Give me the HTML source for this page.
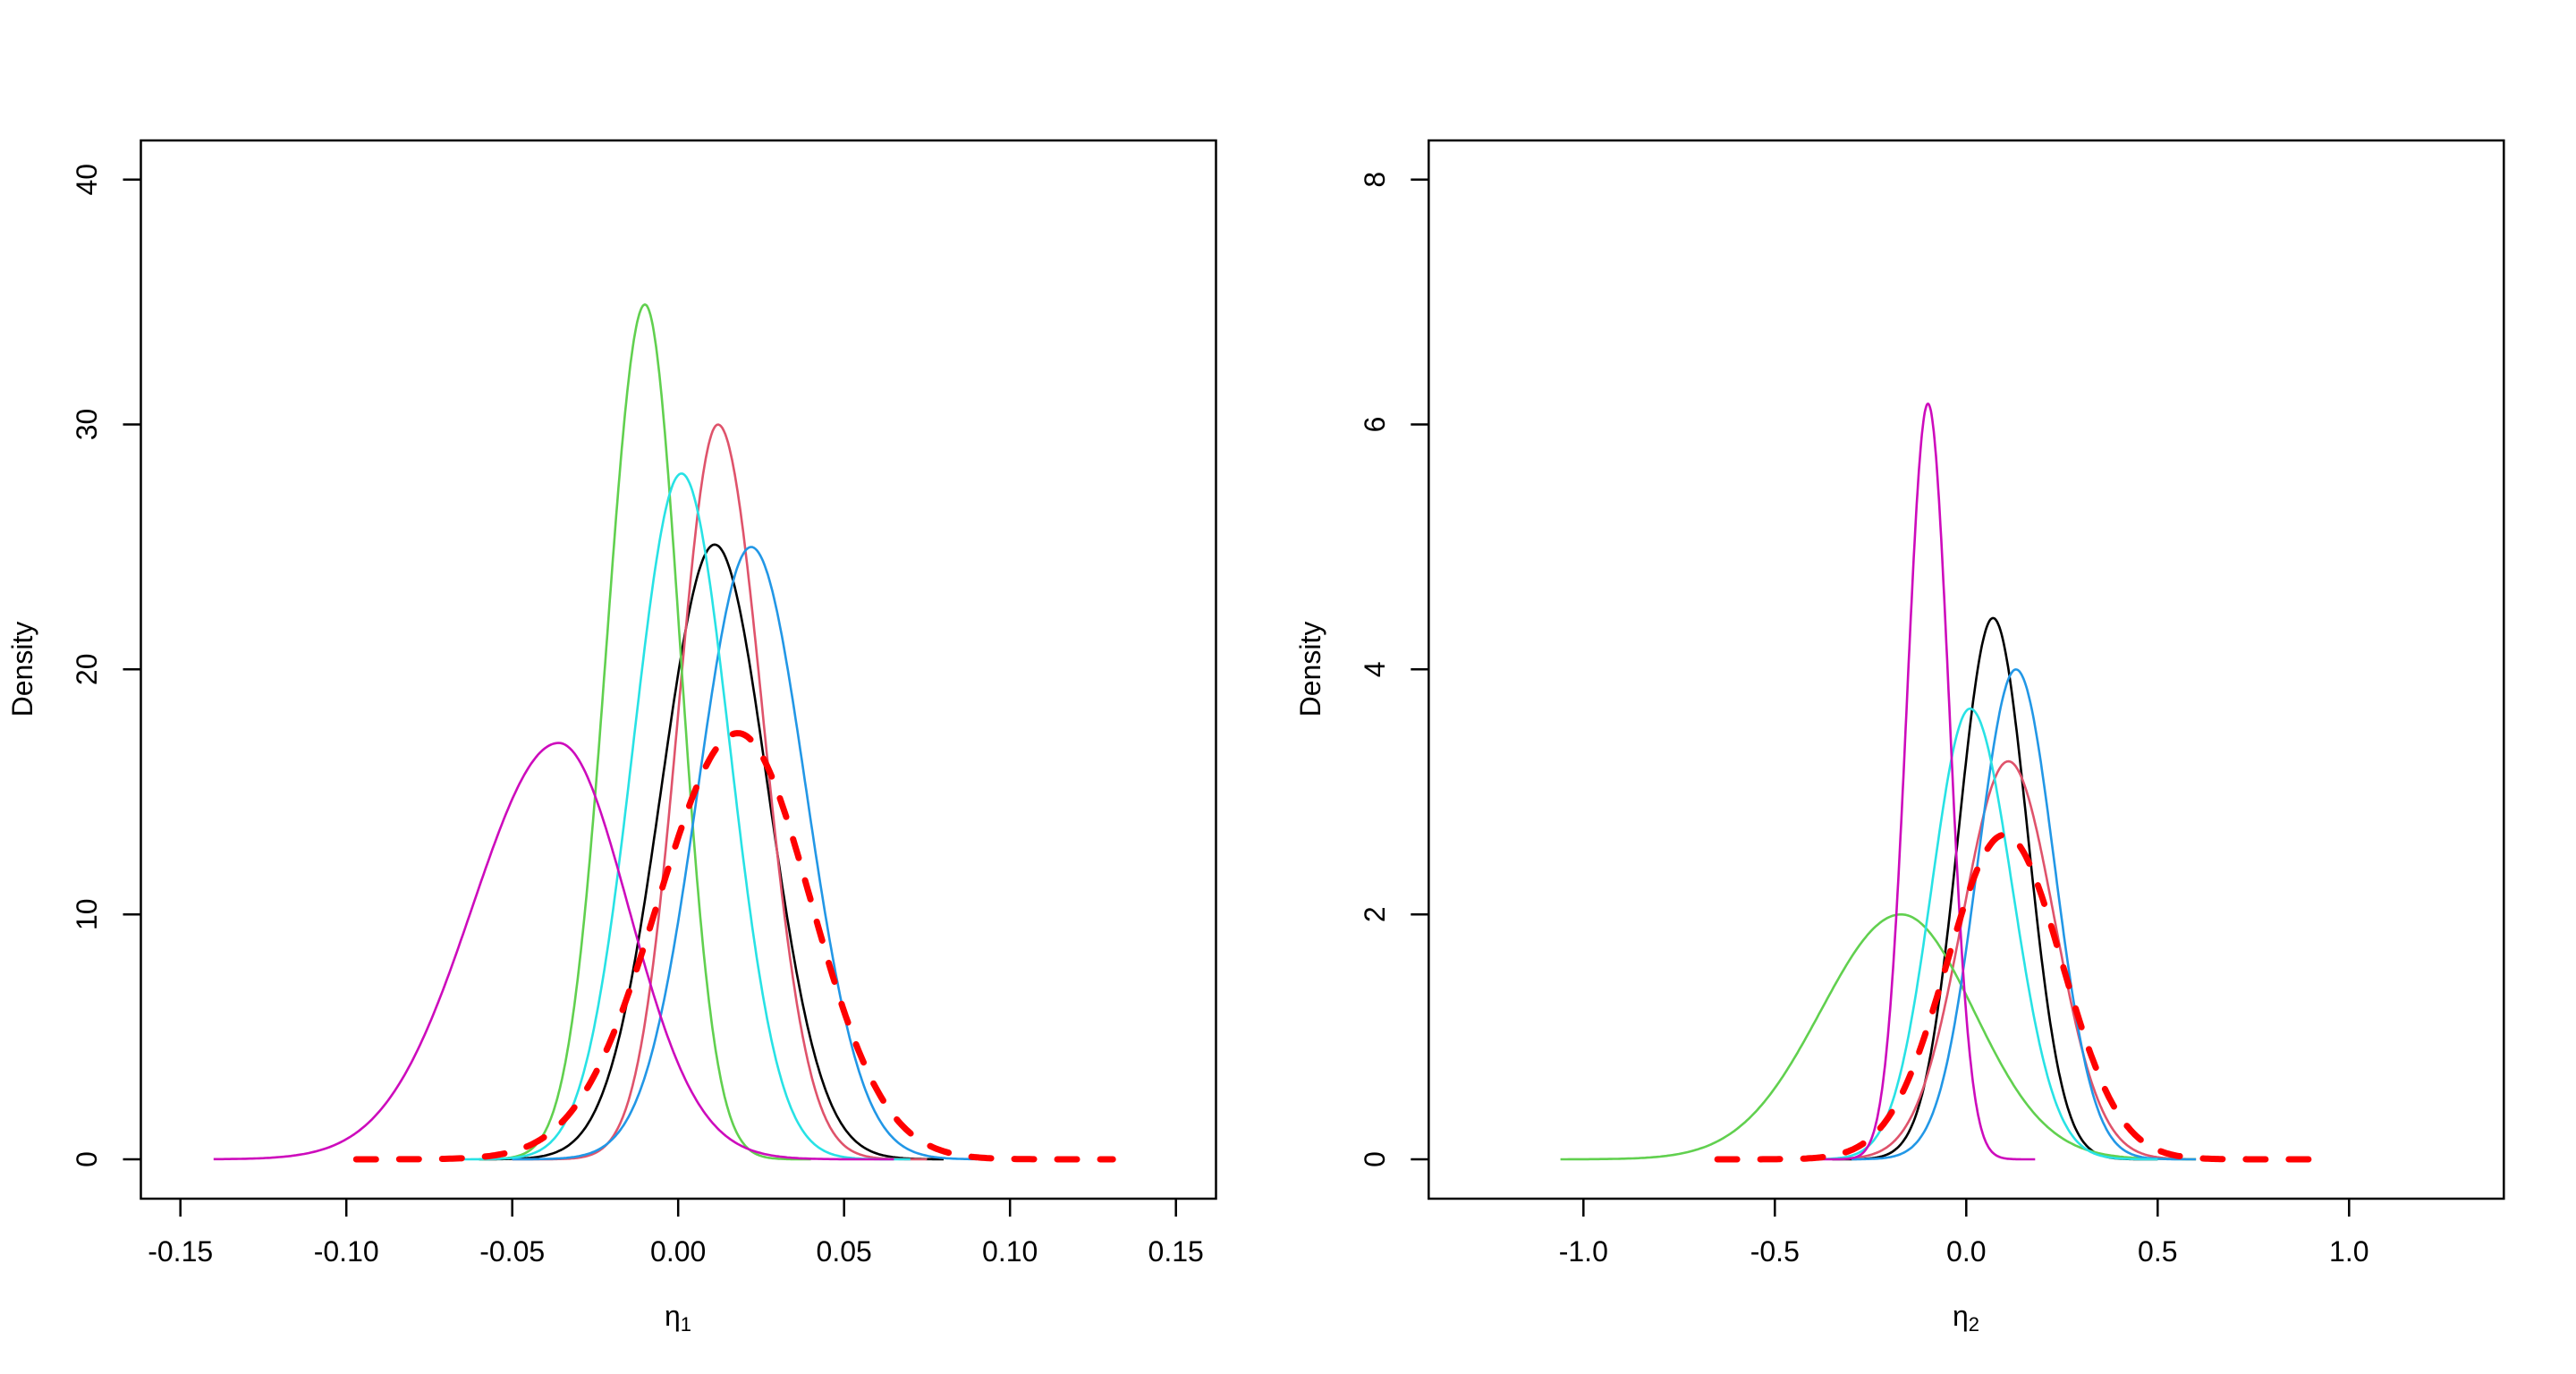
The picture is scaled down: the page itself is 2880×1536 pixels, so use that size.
<!DOCTYPE html>
<html><head><meta charset="utf-8"><style>
html,body{margin:0;padding:0;background:#fff;}
svg{display:block;}
text{font-family:"Liberation Sans",Arial,sans-serif;fill:#000;}
</style></head><body>
<svg id="s" width="2880" height="1536" viewBox="0 0 2880 1536" xmlns="http://www.w3.org/2000/svg">
<rect width="2880" height="1536" fill="#fff"/>
<g fill="none" stroke="#000" stroke-width="2.5">
<rect x="157.5" y="157" width="1202" height="1183"/>
<rect x="1597.3" y="157" width="1202" height="1183"/>
<path d="M201.7 1340v20M387.2 1340v20M572.7 1340v20M758.2 1340v20M943.7 1340v20M1129.2 1340v20M1314.7 1340v20"/>
<path d="M157.5 1296h-20M157.5 1022.2h-20M157.5 748.3h-20M157.5 474.5h-20M157.5 200.7h-20"/>
<path d="M1770.3 1340v20M1984.3 1340v20M2198.3 1340v20M2412.3 1340v20M2626.3 1340v20"/>
<path d="M1597.3 1296h-20M1597.3 1022.2h-20M1597.3 748.3h-20M1597.3 474.5h-20M1597.3 200.7h-20"/>
</g>
<g font-size="32" text-anchor="middle">
<text x="201.7" y="1410">-0.15</text><text x="387.2" y="1410">-0.10</text><text x="572.7" y="1410">-0.05</text><text x="758.2" y="1410">0.00</text><text x="943.7" y="1410">0.05</text><text x="1129.2" y="1410">0.10</text><text x="1314.7" y="1410">0.15</text>
<text x="1770.3" y="1410">-1.0</text><text x="1984.3" y="1410">-0.5</text><text x="2198.3" y="1410">0.0</text><text x="2412.3" y="1410">0.5</text><text x="2626.3" y="1410">1.0</text>
<text transform="translate(108,1296) rotate(-90)">0</text><text transform="translate(108,1022.2) rotate(-90)">10</text><text transform="translate(108,748.3) rotate(-90)">20</text><text transform="translate(108,474.5) rotate(-90)">30</text><text transform="translate(108,200.7) rotate(-90)">40</text>
<text transform="translate(1548,1296) rotate(-90)">0</text><text transform="translate(1548,1022.2) rotate(-90)">2</text><text transform="translate(1548,748.3) rotate(-90)">4</text><text transform="translate(1548,474.5) rotate(-90)">6</text><text transform="translate(1548,200.7) rotate(-90)">8</text>
<text transform="translate(36,748) rotate(-90)">Density</text>
<text transform="translate(1476,748) rotate(-90)">Density</text>
<text x="758" y="1482">η<tspan font-size="22" dy="6">1</tspan></text>
<text x="2198" y="1482">η<tspan font-size="22" dy="6">2</tspan></text>
</g>
<g id="curves" fill="none" stroke-linejoin="round"></g>
</svg>
<script>
var g=document.getElementById('curves');
function curve(x0,xs,y0,ys,c){
 var mu=c[0],h=c[1],sl=c[2],sr=c[3],a=c[4],b=c[5],d='';
 for(var i=0;i<=300;i++){var x=a+(b-a)*i/300;var s=x<mu?sl:sr;var y=h*Math.exp(-0.5*Math.pow((x-mu)/s,2));
  d+=(i?'L':'M')+(x0+x*xs).toFixed(1)+' '+(y0-y*ys).toFixed(1);}
 var p=document.createElementNS('http://www.w3.org/2000/svg','path');
 p.setAttribute('d',d);p.setAttribute('stroke',c[6]);
 if(c[7]){p.setAttribute('stroke-width','7');p.setAttribute('stroke-dasharray','22 26');p.setAttribute('stroke-linecap','round');}
 else p.setAttribute('stroke-width','2.6');
 g.appendChild(p);
}
var L=[
[0.011,25.1,0.016,0.016,-0.06,0.08,'#000'],
[0.012,30,0.012,0.0135,-0.05,0.075,'#DF536B'],
[-0.010,34.9,0.0115,0.0105,-0.06,0.04,'#61D04F'],
[0.022,25,0.016,0.0165,-0.05,0.09,'#2297E6'],
[0.001,28,0.0145,0.0145,-0.065,0.07,'#28E2E5'],
[-0.036,17,0.026,0.021,-0.14,0.065,'#CD0BBC'],
[0.018,17.4,0.024,0.022,-0.097,0.131,'#FF0000',1]];
L.forEach(function(c){curve(758.2,3710,1296,27.38,c);});
var R=[
[0.07,4.42,0.09,0.09,-0.35,0.5,'#000'],
[0.11,3.25,0.12,0.12,-0.35,0.6,'#DF536B'],
[-0.17,2.0,0.21,0.19,-1.06,0.6,'#61D04F'],
[0.13,4.0,0.1,0.1,-0.3,0.6,'#2297E6'],
[0.01,3.68,0.1,0.11,-0.4,0.5,'#28E2E5'],
[-0.1,6.17,0.055,0.055,-0.4,0.18,'#CD0BBC'],
[0.1,2.65,0.15,0.15,-0.65,0.9,'#FF0000',1]];
R.forEach(function(c){curve(2198.3,428,1296,136.9,c);});
</script>
</body></html>
